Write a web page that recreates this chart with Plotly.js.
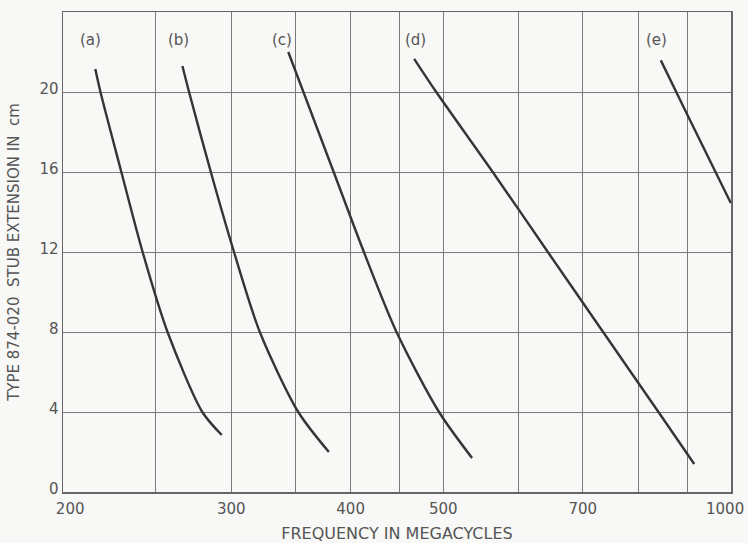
<!DOCTYPE html>
<html>
<head>
<meta charset="utf-8">
<script src="https://cdn.plot.ly/plotly-3.0.1.min.js"></script>
<style>
  html, body { margin: 0; padding: 0; background: #f8f8f6; }
  #chart { width: 748px; height: 543px; }
</style>
</head>
<body>
<div id="chart"></div>
<script>
// ---- data ----
const xGridVals = [200, 250, 300, 350, 400, 450, 500, 600, 700, 800, 900, 1000];
const xTickText = ['\u00a0\u00a0\u00a0200', '', '300', '', '400', '', '500', '', '700', '', '', ''];
const xEndLabel = '1000';   // last x tick label, drawn just inside the right edge
const xEndValue = 1000;
const yTickVals = [0, 4, 8, 12, 16, 20];
const yTickText = ['0', '4', '8', '12', '16', '20'];

const curveNames = ['(a)', '(b)', '(c)', '(d)', '(e)'];

const freqA = [216.2, 218.9, 230.2, 242.3, 257.3, 279.8, 293.2];
const extA  = [21.15, 20, 16, 12, 8, 4, 2.85];

const freqB = [266.7, 271, 285.6, 302, 321.4, 352.6, 379.6];
const extB  = [21.3, 20, 16, 12, 8, 4, 2.0];

const freqC = [344.2, 357, 384, 413, 446.8, 495, 536];
const extC  = [22, 20, 16, 12, 8, 4, 1.7];

const freqD = [466.2, 491.7, 563.4, 643.4, 735.1, 840, 915.6];
const extD  = [21.66, 20, 16, 12, 8, 4, 1.4];

const freqE = [844.8, 900, 1000];
const extE  = [21.58, 18.89, 14.45];

// label anchor frequencies for the curve tags
const labelFreq = [213.6, 264.3, 339.4, 468, 837];
const labelExt = 22.6;

// ---- build ----
const xs = [freqA, freqB, freqC, freqD, freqE];
const ys = [extA, extB, extC, extD, extE];
const lineColor = '#353535';
const textColor = '#555555';
const gridColor = '#7a7a7a';
const fontFam = '"DejaVu Sans", "Liberation Sans", sans-serif';

const traces = xs.map((x, i) => ({
  type: 'scatter',
  mode: 'lines',
  x: x,
  y: ys[i],
  name: curveNames[i],
  line: { color: lineColor, width: 2.4, shape: 'spline', smoothing: 0.8 },
  hoverinfo: 'skip'
}));

const annotations = curveNames.map((t, i) => ({
  x: Math.log10(labelFreq[i]),
  y: labelExt,
  xref: 'x', yref: 'y',
  text: t,
  showarrow: false,
  font: { family: fontFam, size: 15, color: textColor },
  xanchor: 'center', yanchor: 'middle'
}));

annotations.push({
  x: Math.log10(xEndValue),
  y: 0,
  xref: 'x', yref: 'y',
  text: xEndLabel,
  showarrow: false,
  font: { family: fontFam, size: 15, color: textColor },
  xanchor: 'center', yanchor: 'top',
  xshift: -6, yshift: -6
});

const layout = {
  width: 748, height: 543,
  paper_bgcolor: '#f8f8f6',
  plot_bgcolor: '#f8f8f6',
  margin: { l: 63, r: 17, t: 12, b: 51 },
  showlegend: false,
  font: { family: fontFam, color: textColor },
  xaxis: {
    type: 'log',
    range: [Math.log10(200), Math.log10(1000) + 0.0002],
    tickmode: 'array',
    tickvals: xGridVals,
    ticktext: xTickText,
    ticks: '',
    ticklabelstandoff: 2,
    showgrid: true,
    gridcolor: gridColor,
    gridwidth: 1,
    showline: true,
    linecolor: '#666666',
    linewidth: 1.5,
    mirror: true,
    zeroline: false,
    tickfont: { family: fontFam, size: 15, color: textColor },
    title: {
      text: 'FREQUENCY IN MEGACYCLES',
      font: { family: fontFam, size: 16, color: textColor },
      standoff: 18
    }
  },
  yaxis: {
    range: [0, 24],
    tickmode: 'array',
    tickvals: yTickVals,
    ticktext: yTickText,
    ticks: '',
    ticklabelshift: -3,
    showgrid: true,
    gridcolor: gridColor,
    gridwidth: 1,
    showline: true,
    linecolor: '#666666',
    linewidth: 1.5,
    mirror: true,
    zeroline: false,
    tickfont: { family: fontFam, size: 15, color: textColor },
    title: {
      text: 'TYPE 874-020  STUB EXTENSION IN  cm',
      font: { family: fontFam, size: 15, color: textColor },
      standoff: 16
    }
  },
  annotations: annotations
};

Plotly.newPlot('chart', traces, layout, { staticPlot: true, displayModeBar: false });
</script>
</body>
</html>
